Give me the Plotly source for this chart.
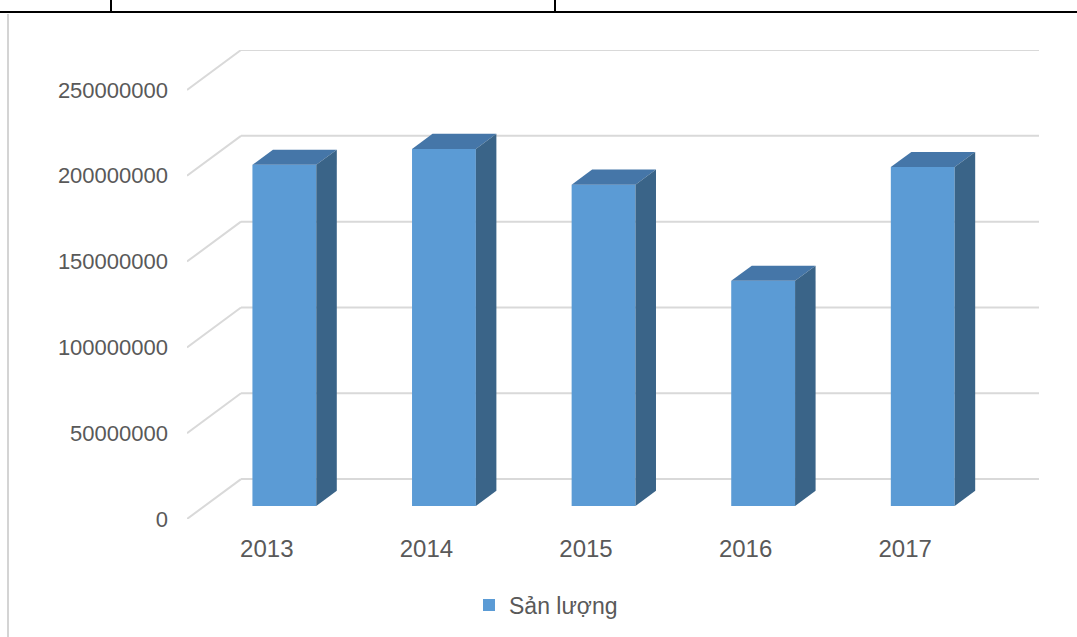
import plotly.graph_objects as go

# ---- data ----
years = ["2013", "2014", "2015", "2016", "2017"]
values = [198800000, 208100000, 187200000, 131200000, 197500000]
y_ticks = [0, 50000000, 100000000, 150000000, 200000000, 250000000]
y_tick_labels = ["0", "50000000", "100000000", "150000000", "200000000", "250000000"]
series_name = "Sản lượng"

# ---- 3D projection styling (in axis units) ----
DEPTH_X = 0.3383      # full floor depth, horizontal shift in category units
DEPTH_Y = 23.26e6     # full floor depth, vertical shift in value units
BAR_FRONT = 0.325     # depth fraction of bar front face
BAR_BACK = 0.705      # depth fraction of bar back face
BAR_W = 0.40

FRONT_C = "#5B9BD5"
TOP_C = "#4576A8"
SIDE_C = "#3A6488"
GRID_C = "#D9D9D9"
TEXT_C = "#595959"
FONT = "Liberation Sans, Arial, sans-serif"

x_pos = list(range(len(years)))
x_min, x_max = -0.5, len(years) - 0.5

fig = go.Figure()

# front faces
fig.add_trace(go.Bar(
    x=[i + BAR_FRONT * DEPTH_X for i in x_pos],
    y=values,
    base=BAR_FRONT * DEPTH_Y,
    width=BAR_W,
    marker=dict(color=FRONT_C, line=dict(width=0)),
    name=series_name,
    showlegend=True,
    hoverinfo="skip",
))

dxb = (BAR_BACK - BAR_FRONT) * DEPTH_X
dyb = (BAR_BACK - BAR_FRONT) * DEPTH_Y
for i, v in zip(x_pos, values):
    xl = i + BAR_FRONT * DEPTH_X - BAR_W / 2
    xr = xl + BAR_W
    b = BAR_FRONT * DEPTH_Y
    t = b + v
    # top face
    fig.add_trace(go.Scatter(
        x=[xl, xr, xr + dxb, xl + dxb, xl],
        y=[t, t, t + dyb, t + dyb, t],
        fill="toself", fillcolor=TOP_C, mode="lines", line=dict(width=0),
        showlegend=False, hoverinfo="skip"))
    # side face
    fig.add_trace(go.Scatter(
        x=[xr, xr + dxb, xr + dxb, xr, xr],
        y=[b, b + dyb, t + dyb, t, b],
        fill="toself", fillcolor=SIDE_C, mode="lines", line=dict(width=0),
        showlegend=False, hoverinfo="skip"))

# perspective gridlines (below traces)
shapes = []
for tv in y_ticks:
    shapes.append(dict(type="line", xref="x", yref="y", layer="below",
                       x0=x_min, y0=tv, x1=x_min + DEPTH_X, y1=tv + DEPTH_Y,
                       line=dict(color=GRID_C, width=2)))
    shapes.append(dict(type="line", xref="x", yref="y", layer="below",
                       x0=x_min + DEPTH_X, y0=tv + DEPTH_Y, x1=x_max + DEPTH_X, y1=tv + DEPTH_Y,
                       line=dict(color=GRID_C, width=2)))

# page decorations (document table borders)
shapes += [
    dict(type="line", xref="paper", yref="paper", x0=-187/852, x1=890/852,
         y0=(520-12)/470, y1=(520-12)/470, line=dict(color="#000000", width=2)),
    dict(type="line", xref="paper", yref="paper", x0=(111-187)/852, x1=(111-187)/852,
         y0=(520-12)/470, y1=520/470 + 0.01, line=dict(color="#000000", width=2)),
    dict(type="line", xref="paper", yref="paper", x0=(555-187)/852, x1=(555-187)/852,
         y0=(520-12)/470, y1=520/470 + 0.01, line=dict(color="#000000", width=2)),
    dict(type="line", xref="paper", yref="paper", x0=(8-187)/852, x1=(8-187)/852,
         y0=(520-14)/470, y1=-117/470 - 0.01, line=dict(color="#D4D4D4", width=2)),
]

y_top = max(y_ticks) + DEPTH_Y + 0.02e6

fig.update_layout(
    width=1077, height=637,
    margin=dict(l=187, r=38, t=50, b=117),
    paper_bgcolor="white", plot_bgcolor="white",
    font=dict(family=FONT, color=TEXT_C),
    shapes=shapes,
    showlegend=True,
    legend=dict(orientation="h", x=(469-187)/852, xanchor="left",
                y=(520-605)/470, yanchor="middle",
                font=dict(size=23, color=TEXT_C), bgcolor="rgba(0,0,0,0)"),
    xaxis=dict(range=[x_min, x_max + DEPTH_X], tickvals=x_pos, ticktext=years,
               showgrid=False, zeroline=False, showline=False, ticks="",
               ticklabelstandoff=13,
               tickfont=dict(size=24, color=TEXT_C), fixedrange=True),
    yaxis=dict(range=[0, y_top], tickvals=y_ticks, ticktext=y_tick_labels,
               showgrid=False, zeroline=False, showline=False, ticks="",
               ticklabelstandoff=18,
               tickfont=dict(size=22, color=TEXT_C), fixedrange=True),
)

fig.write_html("out.html")
